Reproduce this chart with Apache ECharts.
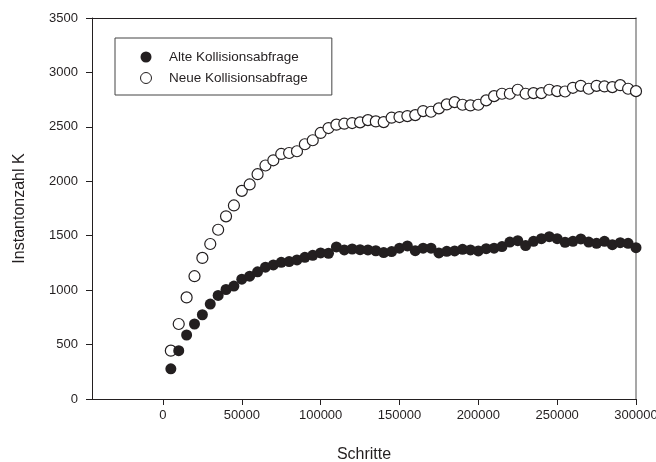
<!DOCTYPE html>
<html>
<head>
<meta charset="utf-8">
<script src="https://cdn.jsdelivr.net/npm/echarts@6/dist/echarts.min.js"></script>
<style>
  html, body { margin: 0; padding: 0; background: #fff; }
  #chart { width: 656px; height: 462px; }
</style>
</head>
<body>
<div id="chart"></div>
<script>
// Simulation steps (x) and instanton counts for both collision checks
const steps = [];
for (let s = 5000; s <= 300000; s += 5000) steps.push(s);

const alteWerte = [
  277, 444, 588, 689, 774, 872, 951, 1006, 1037, 1101,
  1128, 1168, 1211, 1232, 1256, 1262, 1278, 1302, 1320, 1342,
  1339, 1397, 1369, 1378, 1372, 1369, 1362, 1345, 1354, 1385,
  1406, 1363, 1385, 1385, 1342, 1357, 1360, 1375, 1369, 1360,
  1381, 1385, 1400, 1442, 1454, 1409, 1449, 1473, 1491, 1473,
  1440, 1449, 1470, 1442, 1430, 1449, 1418, 1436, 1430, 1390
];

const neueWerte = [
  444, 689, 933, 1128, 1296, 1424, 1555, 1678, 1778, 1912,
  1971, 2065, 2145, 2193, 2251, 2260, 2276, 2340, 2377, 2444,
  2489, 2520, 2529, 2535, 2541, 2562, 2550, 2544, 2584, 2590,
  2599, 2608, 2645, 2639, 2670, 2706, 2727, 2703, 2697, 2703,
  2743, 2782, 2804, 2804, 2841, 2804, 2810, 2810, 2841, 2828,
  2825, 2859, 2877, 2850, 2877, 2871, 2865, 2883, 2850, 2828
];

const xTicks = [0, 50000, 100000, 150000, 200000, 250000, 300000];
const serienNamen = ['Alte Kollisionsabfrage', 'Neue Kollisionsabfrage'];

const pairs = (vals) => steps.map((s, i) => [s, vals[i]]);

const FONT = '"Liberation Sans", Arial, sans-serif';
const INK = '#231f20';
const plain = (v) => String(v);

const chart = echarts.init(document.getElementById('chart'), null, { renderer: 'canvas' });

chart.setOption({
  backgroundColor: '#ffffff',
  animation: false,
  textStyle: { fontFamily: FONT, color: INK },
  grid: { left: 92, right: 20, top: 18, bottom: 63, containLabel: false, outerBoundsMode: 'none' },
  legend: {
    data: [
      { name: serienNamen[0], itemStyle: { color: INK, opacity: 1 } },
      { name: serienNamen[1], itemStyle: { color: '#ffffff', borderColor: INK, borderWidth: 1, opacity: 1 } }
    ],
    orient: 'vertical',
    left: 115,
    top: 38,
    itemWidth: 36,
    itemHeight: 11,
    itemGap: 7,
    padding: [12, 24, 10, 25],
    borderColor: '#444',
    borderWidth: 1,
    textStyle: { fontFamily: FONT, fontSize: 13.5, color: INK },
    selectedMode: false
  },
  xAxis: [
    {
      type: 'value',
      min: -45000,
      max: 300000,
      name: 'Schritte',
      nameLocation: 'middle',
      nameGap: 48,
      nameTextStyle: { fontFamily: FONT, fontSize: 16, color: INK },
      axisLine: { show: true, onZero: false, lineStyle: { color: INK, width: 1 } },
      axisTick: { show: true, inside: false, length: 6, customValues: xTicks, lineStyle: { color: INK } },
      axisLabel: { customValues: xTicks, formatter: plain, fontFamily: FONT, fontSize: 13, color: INK, margin: 10 },
      splitLine: { show: false }
    },
    {
      type: 'value',
      position: 'top',
      min: -45000,
      max: 300000,
      axisLine: { show: true, onZero: false, lineStyle: { color: INK, width: 1 } },
      axisTick: { show: false },
      axisLabel: { show: false },
      splitLine: { show: false }
    }
  ],
  yAxis: [
    {
      type: 'value',
      min: 0,
      max: 3500,
      interval: 500,
      name: 'Instantonzahl K',
      nameLocation: 'middle',
      nameGap: 64,
      nameTextStyle: { fontFamily: FONT, fontSize: 16, color: INK },
      axisLine: { show: true, onZero: false, lineStyle: { color: INK, width: 1 } },
      axisTick: { show: true, inside: false, length: 6, lineStyle: { color: INK } },
      axisLabel: { formatter: plain, fontFamily: FONT, fontSize: 13, color: INK, margin: 14 },
      splitLine: { show: false }
    },
    {
      type: 'value',
      position: 'right',
      min: 0,
      max: 3500,
      axisLine: { show: true, onZero: false, lineStyle: { color: '#8a8a8a', width: 1.5 } },
      axisTick: { show: false },
      axisLabel: { show: false },
      splitLine: { show: false }
    }
  ],
  series: [
    {
      name: serienNamen[1],
      type: 'scatter',
      symbol: 'circle',
      symbolSize: 11,
      data: pairs(neueWerte),
      itemStyle: { color: '#ffffff', borderColor: INK, borderWidth: 1.2, opacity: 1 },
      z: 2
    },
    {
      name: serienNamen[0],
      type: 'scatter',
      symbol: 'circle',
      symbolSize: 11,
      data: pairs(alteWerte),
      itemStyle: { color: INK, opacity: 1 },
      z: 3
    }
  ]
});
</script>
</body>
</html>
